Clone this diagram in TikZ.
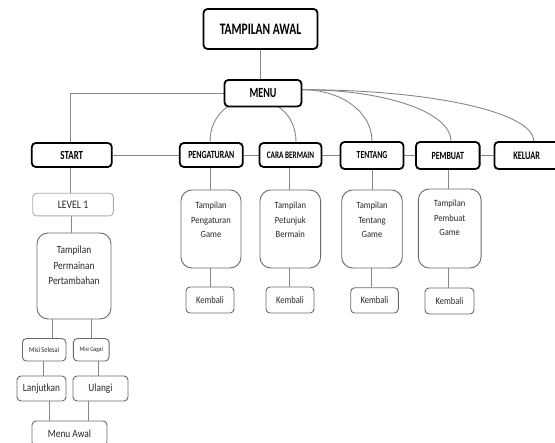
\documentclass[tikz,border=0pt]{standalone}
\usepackage{fontspec}
\setmainfont{Carlito}
\usepackage{graphicx}
\usetikzlibrary{backgrounds}
\definecolor{lc}{RGB}{135,135,135}
\definecolor{bc}{RGB}{105,105,105}
\definecolor{tc}{RGB}{40,40,40}
\newcommand{\hd}[2]{\scalebox{0.72}[1]{\fontsize{#1}{#1}\selectfont\bfseries #2}}
\newcommand{\nt}[2]{\scalebox{0.85}[1]{\fontsize{#1}{#1}\selectfont #2}}
\newcommand{\tbx}[4]{\scalebox{0.9}[1]{\parbox[c][#2][t]{#1}{\centering\fontsize{9.5}{14.5}\selectfont\vspace*{#3}#4\par}}}
\begin{document}
\begin{tikzpicture}[x=1pt,y=1pt,
  hdr/.style={draw=black,line width=1.8pt,rounded corners=4pt,fill=white,inner sep=0pt,text=black},
  sbox/.style={draw=bc,line width=0.9pt,rounded corners=4pt,fill=white,inner sep=0pt,text=tc},
  bbox/.style={sbox,rounded corners=11pt},
  conn/.style={draw=lc,line width=0.9pt}]
\useasboundingbox (0,0) rectangle (555,443);
\clip (0,0) rectangle (555,443);

% header nodes
\node[hdr,minimum width=114pt,minimum height=40pt] (awal) at (260.5,414) {\hd{16}{TAMPILAN AWAL}};
\node[hdr,minimum width=77pt,minimum height=26.5pt] (menu) at (263,349.8) {\hd{14}{MENU}};
\node[hdr,minimum width=80pt,minimum height=24pt] (start) at (71.8,288) {\hd{12.4}{START}};
\node[hdr,minimum width=63pt,minimum height=24pt] (peng) at (211.3,288) {\hd{11}{PENGATURAN}};
\node[hdr,minimum width=62pt,minimum height=24pt] (cara) at (290.5,288) {\hd{10}{CARA BERMAIN}};
\node[hdr,minimum width=63pt,minimum height=27pt] (tent) at (372,287.5) {\hd{10.7}{TENTANG}};
\node[hdr,minimum width=63.6pt,minimum height=27pt] (pemb) at (447.8,287.5) {\hd{11}{PEMBUAT}};
\node[hdr,minimum width=64.6pt,minimum height=27pt] (kel) at (526.7,287.5) {\hd{11.5}{KELUAR}};

% left column
\node[sbox,draw=bc!55,minimum width=80.6pt,minimum height=22.7pt] (lv) at (73,238.4) {\nt{11.5}{LEVEL 1}};
\node[bbox] (tp) at (74,167) {\scalebox{0.85}[1]{\parbox[c][86pt][t]{87pt}{\centering\fontsize{11}{15.5}\selectfont\vspace*{13pt}Tampilan\\Permainan\\Pertambahan\par}}};
\node[sbox,minimum width=43.5pt,minimum height=22.5pt] (ms) at (44.2,93.2) {\nt{7.5}{Misi Selesai}};
\node[sbox,minimum width=35.7pt,minimum height=22.5pt] (mg) at (91.2,93.2) {\nt{6.5}{Misi Gagal}};
\node[sbox,minimum width=49pt,minimum height=25pt] (lanj) at (41.5,54.5) {\nt{11}{Lanjutkan}};
\node[sbox,minimum width=55pt,minimum height=25pt] (ulang) at (100.5,54.5) {\nt{11}{Ulangi}};
\node[sbox,minimum width=75pt,minimum height=25pt] (mawal) at (69.5,9.5) {\nt{11}{Menu Awal}};

% right boxes
\node[bbox] (tpg) at (211,214) {\tbx{66.7pt}{78pt}{12pt}{Tampilan\\Pengaturan\\Game}};
\node[bbox] (tpb) at (290.3,214) {\tbx{67.4pt}{78pt}{12pt}{Tampilan\\Petunjuk\\Bermain}};
\node[bbox] (ttg) at (372,214) {\tbx{67.3pt}{78pt}{12pt}{Tampilan\\Tentang\\Game}};
\node[bbox] (tpm) at (449.7,214.5) {\tbx{69.7pt}{79pt}{11pt}{Tampilan\\Pembuat\\Game}};
\node[sbox,minimum width=48pt,minimum height=26pt] (k1) at (210,143) {\nt{10}{Kembali}};
\node[sbox,minimum width=48pt,minimum height=26pt] (k2) at (290,143) {\nt{10}{Kembali}};
\node[sbox,minimum width=47.6pt,minimum height=25.3pt] (k3) at (374.5,142.6) {\nt{10}{Kembali}};
\node[sbox,minimum width=49pt,minimum height=26pt] (k4) at (449.5,142) {\nt{10}{Kembali}};

\begin{pgfonlayer}{background}
\fill[white] (0,0) rectangle (555,443);
\draw[conn] (awal.south) -- (awal.south |- menu.north);
\draw[conn] (menu.west) -| (70,0 |- start.north);
\draw[conn] (start.east) -- (start.east -| peng.west);
\draw[conn] (peng.east) -- (peng.east -| cara.west);
\draw[conn] (cara.east) -- (cara.east -| tent.west);
\draw[conn] (tent.east) -- (tent.east -| pemb.west);
\draw[conn] (pemb.east) -- (pemb.east -| kel.west);
\draw[conn] (210,0 |- peng.north) to[out=90,in=90,looseness=1.7] (296,0 |- cara.north);
\coordinate (mr) at ([yshift=3.5pt]menu.east);
\draw[conn] (mr) .. controls +(38.9,0) and +(0,29) .. (tent.north);
\draw[conn] (mr) .. controls +(82.5,0) and +(0,29) .. (451,0 |- pemb.north);
\draw[conn] (mr) .. controls +(128,0) and +(0,29) .. (533.7,0 |- kel.north);
\draw[conn] (70,0 |- start.south) -- (70,0 |- lv.north);
\draw[conn] (71,0 |- lv.south) -- (71,0 |- tp.north);
\draw[conn] (52,0 |- tp.south) -- (52,0 |- ms.north);
\draw[conn] (91.5,0 |- tp.south) -- (91.5,0 |- mg.north);
\draw[conn] (43,0 |- ms.south) -- (43,0 |- lanj.north);
\draw[conn] (98.5,0 |- mg.south) -- (98.5,0 |- ulang.north);
\draw[conn] (49,0 |- lanj.south) -- (49,0 |- mawal.north);
\draw[conn] (88,0 |- ulang.south) -- (88,0 |- mawal.north);
\draw[conn] (210.6,0 |- peng.south) -- (210.6,0 |- tpg.north);
\draw[conn] (210,0 |- tpg.south) -- (210,0 |- k1.north);
\draw[conn] (289.5,0 |- cara.south) -- (289.5,0 |- tpb.north);
\draw[conn] (289.3,0 |- tpb.south) -- (289.3,0 |- k2.north);
\draw[conn] (372.7,0 |- tent.south) -- (372.7,0 |- ttg.north);
\draw[conn] (371.7,0 |- ttg.south) -- (371.7,0 |- k3.north);
\draw[conn] (448.8,0 |- pemb.south) -- (448.8,0 |- tpm.north);
\draw[conn] (448.3,0 |- tpm.south) -- (448.3,0 |- k4.north);
\end{pgfonlayer}
\end{tikzpicture}
\end{document}
